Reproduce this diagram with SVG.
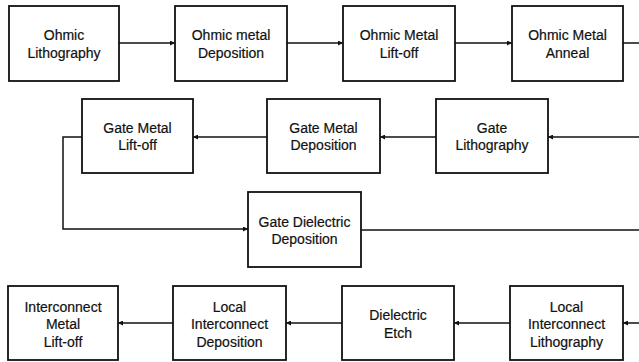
<svg xmlns="http://www.w3.org/2000/svg" width="639" height="362" viewBox="0 0 639 362">
<style>
.box{fill:#fff;stroke:#111;stroke-width:1.8}
.lbl{font-family:"Liberation Sans",Arial,sans-serif;font-size:14px;fill:#111;stroke:#111;stroke-width:0.2;text-anchor:middle}
.con{fill:none;stroke:#111;stroke-width:1.5}
</style>
<defs>
<marker id="ah" viewBox="0 0 8 8" refX="8" refY="4" markerWidth="5" markerHeight="5" markerUnits="userSpaceOnUse" orient="auto">
<path d="M0,0 L8,4 L0,8 Z" fill="#111"/>
</marker>
</defs>
<rect width="639" height="362" fill="#fff"/>
<g id="connectors">
<line class="con" x1="119" y1="43" x2="175" y2="43" marker-end="url(#ah)"/>
<line class="con" x1="287" y1="43" x2="343" y2="43" marker-end="url(#ah)"/>
<line class="con" x1="455" y1="43" x2="512" y2="43" marker-end="url(#ah)"/>
<line class="con" x1="623" y1="43" x2="639" y2="43"/>
<line class="con" x1="639" y1="137" x2="548" y2="137" marker-end="url(#ah)"/>
<line class="con" x1="436" y1="137" x2="380" y2="137" marker-end="url(#ah)"/>
<line class="con" x1="267" y1="137" x2="193" y2="137" marker-end="url(#ah)"/>
<polyline class="con" points="82,137 63,137 63,229 248,229" marker-end="url(#ah)"/>
<line class="con" x1="361" y1="230" x2="639" y2="230"/>
<line class="con" x1="639" y1="323" x2="623" y2="323" marker-end="url(#ah)"/>
<line class="con" x1="510" y1="323" x2="454" y2="323" marker-end="url(#ah)"/>
<line class="con" x1="342" y1="323" x2="286" y2="323" marker-end="url(#ah)"/>
<line class="con" x1="173" y1="323" x2="118" y2="323" marker-end="url(#ah)"/>
</g>
<g id="n1"><rect class="box" x="9" y="6" width="110" height="75"/><text class="lbl" x="64" y="39.5">Ohmic</text><text class="lbl" x="64" y="57.5">Lithography</text></g>
<g id="n2"><rect class="box" x="175" y="6" width="112" height="75"/><text class="lbl" x="231" y="39.5">Ohmic metal</text><text class="lbl" x="231" y="57.5">Deposition</text></g>
<g id="n3"><rect class="box" x="343" y="6" width="112" height="75"/><text class="lbl" x="399" y="39.5">Ohmic Metal</text><text class="lbl" x="399" y="57.5">Lift-off</text></g>
<g id="n4"><rect class="box" x="512" y="6" width="111" height="75"/><text class="lbl" x="567.5" y="39.5">Ohmic Metal</text><text class="lbl" x="567.5" y="57.5">Anneal</text></g>
<g id="n5"><rect class="box" x="436" y="99" width="112" height="74"/><text class="lbl" x="492" y="133">Gate</text><text class="lbl" x="492" y="150">Lithography</text></g>
<g id="n6"><rect class="box" x="267" y="99" width="113" height="74"/><text class="lbl" x="323.5" y="133">Gate Metal</text><text class="lbl" x="323.5" y="150">Deposition</text></g>
<g id="n7"><rect class="box" x="82" y="99" width="111" height="74"/><text class="lbl" x="137.5" y="133">Gate Metal</text><text class="lbl" x="137.5" y="150">Lift-off</text></g>
<g id="n8"><rect class="box" x="248" y="192" width="113" height="75"/><text class="lbl" x="304.5" y="226.5">Gate Dielectric</text><text class="lbl" x="304.5" y="243.5">Deposition</text></g>
<g id="n9"><rect class="box" x="510" y="286" width="113" height="74"/><text class="lbl" x="566.5" y="311.5">Local</text><text class="lbl" x="566.5" y="329">Interconnect</text><text class="lbl" x="566.5" y="346.5">Lithography</text></g>
<g id="n10"><rect class="box" x="342" y="286" width="112" height="74"/><text class="lbl" x="398" y="320">Dielectric</text><text class="lbl" x="398" y="337.5">Etch</text></g>
<g id="n11"><rect class="box" x="173" y="286" width="113" height="74"/><text class="lbl" x="229.5" y="311.5">Local</text><text class="lbl" x="229.5" y="329">Interconnect</text><text class="lbl" x="229.5" y="346.5">Deposition</text></g>
<g id="n12"><rect class="box" x="8" y="286" width="110" height="74"/><text class="lbl" x="63" y="311.5">Interconnect</text><text class="lbl" x="63" y="329">Metal</text><text class="lbl" x="63" y="346.5">Lift-off</text></g>
</svg>
